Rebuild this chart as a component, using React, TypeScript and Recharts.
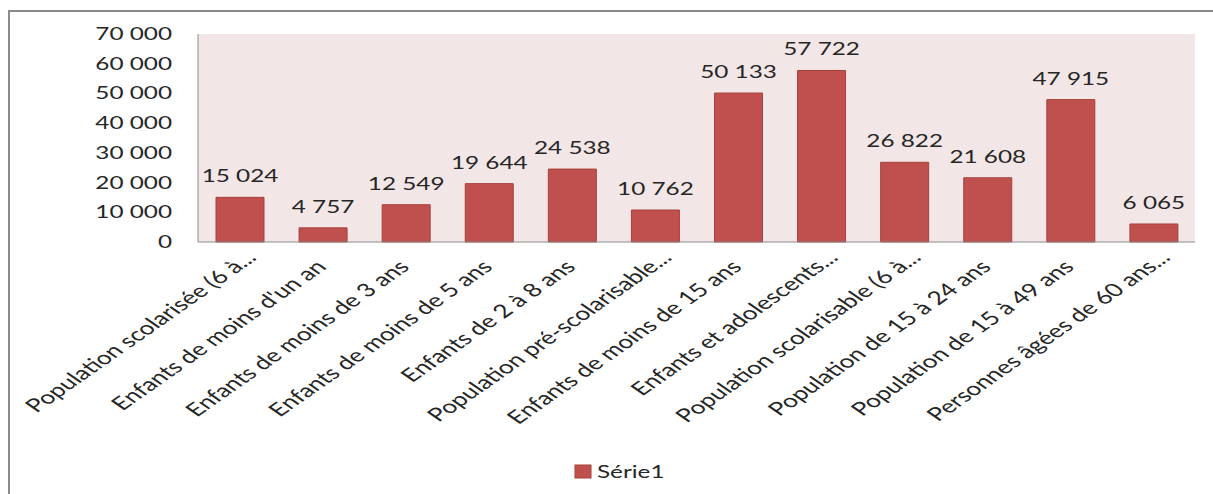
import React from 'react';
import { BarChart, Bar, XAxis, YAxis, CartesianGrid, Legend } from 'recharts';

const categories = [
  'Population scolarisée (6 à...',
  "Enfants de moins d'un an",
  'Enfants de moins de 3 ans',
  'Enfants de moins de 5 ans',
  'Enfants de 2 à 8 ans',
  'Population pré-scolarisable...',
  'Enfants de moins de 15 ans',
  'Enfants et adolescents...',
  'Population scolarisable (6 à...',
  'Population de 15 à 24 ans',
  'Population de 15 à 49 ans',
  'Personnes âgées de 60 ans...',
];

const serie1 = [15024, 4757, 12549, 19644, 24538, 10762, 50133, 57722, 26822, 21608, 47915, 6065];

const yTicks = [0, 10000, 20000, 30000, 40000, 50000, 60000, 70000];

const seriesName = 'Série1';

const data = categories.map((name, i) => ({ name, value: serie1[i] }));

// the source picture is stretched horizontally, so text is widened the same way
const STRETCH = 1.43;
const FONT = 'Lato, "Open Sans", sans-serif';
const TEXT = '#262626';
const BAR = '#c0504d';

const fmt = (v: number) => String(v).replace(/\B(?=(\d{3})+(?!\d))/g, ' ');

const YTick = ({ x, y, payload }: any) => (
  <text
    transform={`translate(${x},${y + 6}) scale(${STRETCH},1)`}
    textAnchor="end"
    fontFamily={FONT}
    fontSize={17}
    fill={TEXT}
  >
    {fmt(payload.value)}
  </text>
);

// truncated labels: the "..." hangs past the anchor point, as in Excel
const XTick = ({ x, y, payload }: any) => {
  const label: string = payload.value;
  const cut = label.endsWith('...');
  const main = cut ? label.slice(0, -3) : label;
  return (
    <g transform={`translate(${x + 5},${y + 26}) scale(${STRETCH},1) rotate(-45)`}>
      <text textAnchor="end" fontFamily={FONT} fontSize={18.5} fill={TEXT}>
        {main}
      </text>
      {cut && (
        <text textAnchor="start" fontFamily={FONT} fontSize={18.5} fill={TEXT}>
          ...
        </text>
      )}
    </g>
  );
};

const ValueLabel = (props: any) => {
  const { x, y, width, value } = props;
  return (
    <text
      transform={`translate(${x + width / 2},${y - 15}) scale(${STRETCH},1)`}
      textAnchor="middle"
      fontFamily={FONT}
      fontSize={17}
      fill={TEXT}
    >
      {fmt(value)}
    </text>
  );
};

const LegendBox = () => (
  <svg width={1213} height={40}>
    <rect x={575} y={11} width={16} height={13} fill={BAR} stroke="#a5403d" />
    <text
      transform={`translate(597,24) scale(${STRETCH},1)`}
      fontFamily={FONT}
      fontSize={17}
      fill={TEXT}
    >
      {seriesName}
    </text>
  </svg>
);

export default function App() {
  return (
    <div style={{ position: 'fixed', left: 0, top: 0, width: 1213, height: 494, background: '#fff', overflow: 'hidden' }}>
      {/* outer frame, cut off at the right and bottom like the source */}
      <div
        style={{
          position: 'absolute',
          left: 8,
          top: 10,
          width: 1300,
          height: 600,
          border: '2px solid #8a8a8a',
        }}
      />
      <div style={{ position: 'absolute', left: 0, top: 0 }}>
        <BarChart width={1213} height={494} data={data} margin={{ top: 34, right: 18, left: 0, bottom: 0 }}>
          <CartesianGrid horizontal={false} vertical={false} fill="#f2e6e6" />
          <XAxis
            dataKey="name"
            interval={0}
            height={212}
            tickLine={false}
            tickSize={0}
            tickMargin={0}
            axisLine={{ stroke: '#8c8c8c' }}
            tick={<XTick />}
          />
          <YAxis
            width={198}
            domain={[0, 70000]}
            ticks={yTicks}
            interval={0}
            tickLine={false}
            tickSize={0}
            tickMargin={26}
            axisLine={{ stroke: '#8c8c8c' }}
            tick={<YTick />}
          />
          <Legend verticalAlign="bottom" height={40} content={<LegendBox />} />
          <Bar
            dataKey="value"
            name={seriesName}
            fill={BAR}
            stroke="#a5403d"
            strokeWidth={1}
            barSize={48}
            isAnimationActive={false}
            label={<ValueLabel />}
          />
        </BarChart>
      </div>
    </div>
  );
}
